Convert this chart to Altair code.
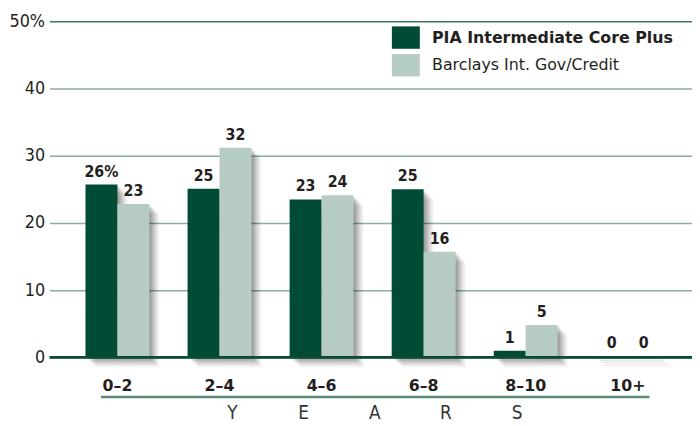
import altair as alt
import pandas as pd

ranges = ["0–2", "2–4", "4–6", "6–8", "8–10", "10+"]
series_names = ["PIA Intermediate Core Plus", "Barclays Int. Gov/Credit"]
pia_values = [25.7, 25.1, 23.5, 25.0, 1.0, 0.2]
pia_labels = ["26%", "25", "23", "25", "1", "0"]
barclays_values = [22.8, 31.2, 24.1, 15.7, 4.8, 0.2]
barclays_labels = ["23", "32", "24", "16", "5", "0"]
y_ticks = [0, 5, 10, 15, 20, 25, 30, 35, 40, 45, 50]
axis_letters = ["Y", "E", "A", "R", "S"]
colors = ["#004b35", "#b6ccc3"]

rows = []
for i, r in enumerate(ranges):
    rows.append({"range": r, "series": series_names[0], "value": pia_values[i], "label": pia_labels[i]})
    rows.append({"range": r, "series": series_names[1], "value": barclays_values[i], "label": barclays_labels[i]})
df = pd.DataFrame(rows)
letters_df = pd.DataFrame({"letter": axis_letters})
one = pd.DataFrame({"k": [0]})

NARROW = "DejaVu Sans Condensed"
TXT = "#231f20"
BAND = 64.64

x_enc = alt.X(
    "range:N", sort=ranges,
    scale=alt.Scale(paddingInner=0.374, paddingOuter=0.3345, align=0.527),
    axis=alt.Axis(title=None, labelAngle=0, domain=False, ticks=False,
                  labelFont="DejaVu Sans", labelFontWeight="bold", labelFontSize=16,
                  labelColor=TXT, labelPadding=21),
)
xoff = alt.XOffset("series:N", sort=series_names, scale=alt.Scale(paddingInner=0, paddingOuter=0))
label_off = alt.XOffset("series:N", sort=series_names,
                        scale=alt.Scale(type="point", padding=0, range=[BAND / 4, 3 * BAND / 4]))
y_enc = alt.Y(
    "value:Q",
    scale=alt.Scale(domain=[0, 50], nice=False),
    axis=alt.Axis(title=None, values=y_ticks,
                  labelExpr="datum.value % 10 == 0 ? (datum.value == 50 ? '50%' : datum.label) : ''",
                  grid=True,
                  gridColor={"condition": {"test": "datum.value == 50", "value": "#3a765e"}, "value": "#88ae9e"},
                  gridWidth=1.5, domain=False, ticks=False,
                  labelFont=NARROW, labelFontSize=18, labelColor=TXT, labelPadding=5),
)

base = alt.Chart(df)

shadows = []
for d, op in [(2, 0.12), (4, 0.11), (6, 0.09), (8, 0.07), (10, 0.05)]:
    sh_off = alt.XOffset("series:N", sort=series_names,
                         scale=alt.Scale(paddingInner=0, paddingOuter=0, range=[d, BAND + d]))
    shadows.append(
        base.mark_bar(color="#000000", opacity=op, yOffset=d, y2Offset=d)
        .encode(x=x_enc, xOffset=sh_off, y=y_enc)
    )

bars = base.mark_bar().encode(
    x=x_enc, xOffset=xoff, y=y_enc,
    color=alt.Color(
        "series:N", sort=series_names,
        scale=alt.Scale(domain=series_names, range=colors),
        legend=alt.Legend(
            title=None, orient="none", legendX=346, legendY=2, padding=0,
            symbolType="M-1,-0.8H1V0.8H-1Z", symbolSize=800, symbolStrokeWidth=0,
            symbolOpacity=1, labelFont="DejaVu Sans", labelFontSize=16, labelColor=TXT,
            labelOffset=12, rowPadding=2, labelLimit=400,
            labelFontWeight=alt.ExprRef("datum.label == 'PIA Intermediate Core Plus' ? 'bold' : 'normal'"),
        ),
    ),
)

labels = base.mark_text(
    font=NARROW, fontWeight="bold", fontSize=16, color=TXT, baseline="bottom", dy=-5
).encode(x=x_enc, xOffset=label_off, y=y_enc, text="label:N")

zero_rule = alt.Chart(one).mark_rule(color="#0b4a33", strokeWidth=3).encode(y=alt.datum(0))

under_rule = alt.Chart(one).mark_rule(color="#5b8b75", strokeWidth=2.5).encode(
    x=alt.value(52), x2=alt.value(607), y=alt.value(380)
)

inner = alt.layer(*shadows, bars, labels, zero_rule, under_rule).resolve_scale(xOffset="independent")

years = alt.Chart(letters_df).mark_text(
    font=NARROW, fontSize=19, color="#333333", baseline="middle"
).encode(
    x=alt.X("letter:N", sort=axis_letters, scale=alt.Scale(type="point", range=[185, 473], padding=0), axis=None),
    y=alt.value(396),
    text="letter:N",
)

chart = alt.layer(inner, years).resolve_scale(x="independent").properties(
    width=650, height=340,
    autosize=alt.AutoSizeParams(type="none"),
    padding={"left": 42, "top": 11, "right": 0, "bottom": 67},
).configure_view(strokeWidth=0)

chart.save("out.html", embed_options={"renderer": "svg", "actions": False})
